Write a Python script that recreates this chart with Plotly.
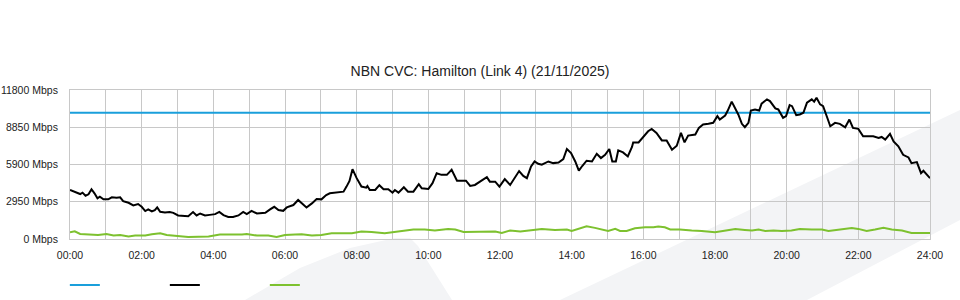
import plotly.graph_objects as go

TITLE = "NBN CVC: Hamilton (Link 4) (21/11/2025)"

# Capacity (blue)
cap_times = ["00:00", "24:00"]
cap_vals = [10000, 10000]

# Traffic (black)
black_times = ["00:00","00:08","00:17","00:21","00:26","00:31","00:36","00:41","00:46","00:50","00:56",
"01:04","01:10","01:18","01:24","01:29","01:38","01:46","01:54","02:00","02:06","02:11","02:17","02:22","02:26",
"02:31","02:39","02:47","02:53","03:01","03:10","03:18","03:26","03:32","03:38","03:46","03:54","04:03","04:10",
"04:17","04:25","04:33","04:42","04:50","04:56","05:04","05:13","05:21","05:27","05:35","05:42","05:49","05:57",
"06:03","06:14","06:22","06:28","06:36","06:45","06:53","07:01","07:09","07:15","07:27","07:38","07:43","07:48",
"07:53","08:00","08:08","08:16","08:18","08:22","08:31","08:38","08:45","08:53","09:00","09:04","09:10","09:19",
"09:26","09:35","09:44","09:49","10:00","10:07","10:14","10:22","10:31","10:39","10:48","10:56","11:03","11:10",
"11:18","11:29","11:38","11:43","11:52","11:59","12:06","12:08","12:17","12:32","12:39","12:45","12:52","12:58",
"13:04","13:10","13:21","13:29","13:38","13:46","13:52","13:59","14:06","14:12","14:18","14:25","14:34","14:42",
"14:49","14:56","15:03","15:08","15:14","15:18","15:26","15:34","15:41","15:43","15:52","16:00","16:08","16:14",
"16:22","16:31","16:39","16:48","16:56","17:03","17:09","17:15","17:27","17:33","17:40","17:49","17:57","18:04",
"18:08","18:17","18:21","18:28","18:34","18:39","18:45","18:50","18:56","19:00","19:07","19:14","19:18","19:27",
"19:32","19:41","19:46","19:54","19:59","20:05","20:09","20:16","20:22","20:28","20:34","20:42","20:46","20:50",
"20:56","21:01","21:08","21:13","21:21","21:29","21:38","21:45","21:51","22:00","22:08","22:17","22:25","22:34",
"22:39","22:45","22:53","22:59","23:07","23:15","23:24","23:29","23:38","23:45","23:49","24:00"]
black_vals = [3880,3750,3560,3670,3430,3540,3940,3620,3220,3350,3140,
3140,3300,3270,3300,3000,2870,2660,2770,2550,2210,2340,2180,2290,2500,
2150,2100,2130,2070,1865,1810,1810,2130,1865,2020,1865,1910,1970,2150,
1890,1750,1750,1865,2150,1970,2230,2020,2020,2070,2340,2550,2290,2230,
2500,2690,3090,2820,2500,2820,3170,3140,3480,3620,3670,3750,4150,4600,
5530,4820,4150,4070,4200,3880,3880,4260,3940,3940,3670,3880,3670,4100,
3750,3750,4340,4020,3960,4420,5210,5080,5080,5480,4620,4600,4620,4200,
4280,4620,4900,4540,4540,4150,4540,4740,4280,5380,5000,4820,5740,6140,
5960,5880,6140,6010,6060,6330,7130,6810,6140,5420,5800,6200,6140,6750,
6410,6670,7130,6140,6140,7020,6860,6540,7290,7650,7650,8130,8530,8720,
8400,7810,7810,7070,7390,8400,7650,8190,8270,8800,9070,9120,9200,9730,
9460,9780,10130,10880,10340,9860,9120,8850,9200,10180,10260,10180,10720,11060,
10920,10340,10260,9600,9730,10600,10520,9810,9860,10000,10800,11060,10880,11190,
10660,10520,9600,8930,9200,9120,8850,9460,8800,8720,8130,8130,8130,8000,
8080,7870,8320,7730,7340,6670,6460,6010,6090,5210,5400,4820]

# Green series
green_times = ["00:00","00:08","00:17","00:47","01:01","01:13","01:24","01:38","01:49","02:06","02:17","02:31",
"02:42","02:59","03:18","03:52","04:11","04:48","04:56","05:13","05:32","05:46","06:00","06:17","06:28","06:45",
"07:01","07:18","07:35","07:52","08:08","08:25","08:47","09:04","09:15","09:35","09:54","10:11","10:33","10:45",
"10:59","11:13","11:35","11:52","12:03","12:17","12:34","12:53","13:10","13:32","13:52","14:00","14:11","14:25",
"14:39","14:50","15:01","15:13","15:21","15:32","15:46","16:03","16:17","16:25","16:36","16:45","17:01","17:21",
"17:38","18:00","18:17","18:34","18:50","19:02","19:13","19:24","19:38","19:52","20:08","20:22","20:42","20:59",
"21:10","21:32","21:49","22:00","22:14","22:28","22:42","22:56","23:13","23:29","24:00"]
green_vals = [534,614,400,320,400,270,320,190,270,270,375,455,
320,270,160,190,350,350,400,270,270,160,320,350,375,270,
320,455,455,455,590,560,455,560,590,750,750,670,800,750,
560,560,590,590,480,670,590,670,800,720,750,640,800,1010,
880,750,640,800,640,640,850,930,930,990,930,750,750,670,
640,530,670,800,720,670,750,640,670,640,670,800,750,750,
640,750,880,800,640,750,880,750,670,480,480]

x_tickvals = list(range(0, 25))
x_ticktext = ["%02d:00" % h if h % 2 == 0 else "" for h in x_tickvals]
y_tickvals = [0, 2950, 5900, 8850, 11800]
y_ticktext = ["0 Mbps", "2950 Mbps", "5900 Mbps", "8850 Mbps", "11800 Mbps"]

def to_h(ts):
    return [int(t[:2]) + int(t[3:]) / 60 for t in ts]

L, R, T, B, W, H = 70, 30, 90, 61, 960, 300
def px(x):
    return (x - L) / (W - L - R)
def py(y):
    return (H - B - y) / (H - T - B)

fig = go.Figure()
fig.add_trace(go.Scatter(x=to_h(cap_times), y=cap_vals, mode="lines", name=" ",
                         line=dict(color="#1a9fdb", width=2)))
fig.add_trace(go.Scatter(x=to_h(black_times), y=black_vals, mode="lines", name=" ",
                         line=dict(color="#000000", width=2)))
fig.add_trace(go.Scatter(x=to_h(green_times), y=green_vals, mode="lines", name=" ",
                         line=dict(color="#7dc12f", width=2)))

wm = "#f3f4f6"
def poly(pts):
    d = "M " + " L ".join("%f,%f" % (px(a), py(b)) for a, b in pts) + " Z"
    return dict(type="path", xref="paper", yref="paper", path=d, fillcolor=wm,
                line=dict(width=0), layer="below")

shapes = [
    poly([(245, 300), (300, 268), (350, 248), (395, 238), (410, 238), (418, 246), (452, 300)]),
    poly([(560, 300), (960, 110), (960, 220), (807, 300)]),
]

grid = "#c8c8c8"
fig.update_layout(
    width=W, height=H,
    margin=dict(l=L, r=R, t=T, b=B, autoexpand=False),
    paper_bgcolor="white", plot_bgcolor="rgba(0,0,0,0)",
    font=dict(family="Liberation Sans, Arial, sans-serif", size=11, color="#222"),
    title=dict(text=TITLE, x=0.5, xref="container", xanchor="center",
               y=1 - 71 / H, yanchor="middle", font=dict(size=14, color="#222")),
    showlegend=True,
    legend=dict(orientation="h", x=-0.006, xanchor="left", y=py(285), yanchor="middle",
                entrywidth=55, entrywidthmode="pixels", itemwidth=30,
                font=dict(size=11), bgcolor="rgba(0,0,0,0)"),
    shapes=shapes,
    xaxis=dict(range=[0, 24], tickvals=x_tickvals, ticktext=x_ticktext, showgrid=True,
               gridcolor=grid, gridwidth=1, zeroline=False, showline=True, mirror=True,
               linecolor=grid, ticks="", ticklabelstandoff=6, tickfont=dict(size=10.5)),
    yaxis=dict(range=[0, 11800], tickvals=y_tickvals, ticktext=y_ticktext, showgrid=True,
               gridcolor=grid, gridwidth=1, zeroline=False, showline=True, mirror=True,
               linecolor=grid, ticks="", ticklabelstandoff=9, tickfont=dict(size=10.5)),
)

fig.write_html("out.html")
